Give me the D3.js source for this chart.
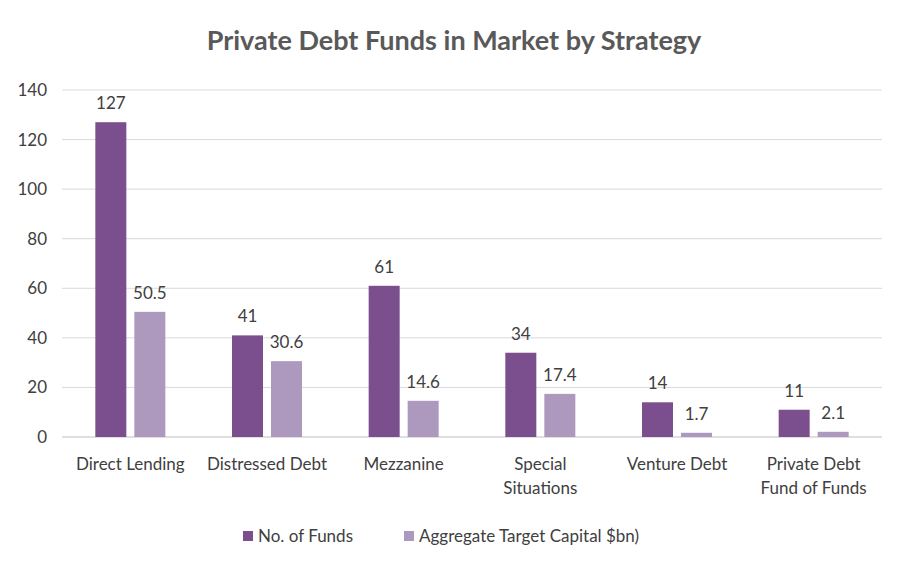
<!DOCTYPE html>
<html><head><meta charset="utf-8">
<script src="https://cdn.jsdelivr.net/npm/d3@7"></script>
<style>body{margin:0;background:#fff}svg{font-family:Lato,"Open Sans",sans-serif}</style>
</head><body><svg id="c" width="909" height="574"></svg>
<script>
const categories=[["Direct Lending"],["Distressed Debt"],["Mezzanine"],["Special","Situations"],["Venture Debt"],["Private Debt","Fund of Funds"]];
const funds=[127,41,61,34,14,11];
const capital=[50.5,30.6,14.6,17.4,1.7,2.1];
const yTicks=[0,20,40,60,80,100,120,140];
const seriesNames=["No. of Funds","Aggregate Target Capital $bn)"];
const colors=["#7b4f8d","#ad98be"];
const svg=d3.select("#c");
const x=d3.scaleBand().domain(d3.range(6)).range([62,882]);
const y=d3.scaleLinear().domain([0,140]).range([437,90]);
const bw=31,gap=8;
svg.append("text").attr("x",454).attr("y",50).attr("text-anchor","middle").attr("font-size",27).attr("font-weight","bold").attr("fill","#595959").text("Private Debt Funds in Market by Strategy");
svg.selectAll(".g").data(yTicks).enter().append("line").attr("x1",62).attr("x2",882).attr("y1",d=>y(d)).attr("y2",d=>y(d)).attr("stroke",d=>d===0?"#bfbfbf":"#d9d9d9").attr("stroke-width",1);
svg.selectAll(".yt").data(yTicks).enter().append("text").attr("x",47).attr("y",d=>y(d)+6).attr("text-anchor","end").attr("font-size",17).attr("fill","#404040").text(d=>d);
[funds,capital].forEach((s,si)=>{
  const off=si===0?-(bw+gap/2):gap/2;
  svg.selectAll(".b"+si).data(s).enter().append("rect").attr("x",(d,i)=>x(i)+x.bandwidth()/2+off).attr("width",bw).attr("y",d=>y(d)).attr("height",d=>y(0)-y(d)).attr("fill",colors[si]);
  svg.selectAll(".l"+si).data(s).enter().append("text").attr("x",(d,i)=>x(i)+x.bandwidth()/2+off+bw/2).attr("y",d=>y(d)-13).attr("text-anchor","middle").attr("font-size",17).attr("fill","#404040").text(d=>d);
});
categories.forEach((c,i)=>{
  const t=svg.append("text").attr("text-anchor","middle").attr("font-size",17).attr("fill","#404040");
  c.forEach((line,j)=>t.append("tspan").attr("x",x(i)+x.bandwidth()/2).attr("y",470+j*24).text(line));
});
const lg=[{x:243},{x:404}];
seriesNames.forEach((n,i)=>{
  svg.append("rect").attr("x",lg[i].x).attr("y",531).attr("width",10).attr("height",10).attr("fill",colors[i]);
  svg.append("text").attr("x",lg[i].x+15).attr("y",542).attr("font-size",17).attr("fill","#404040").text(n);
});
</script></body></html>
